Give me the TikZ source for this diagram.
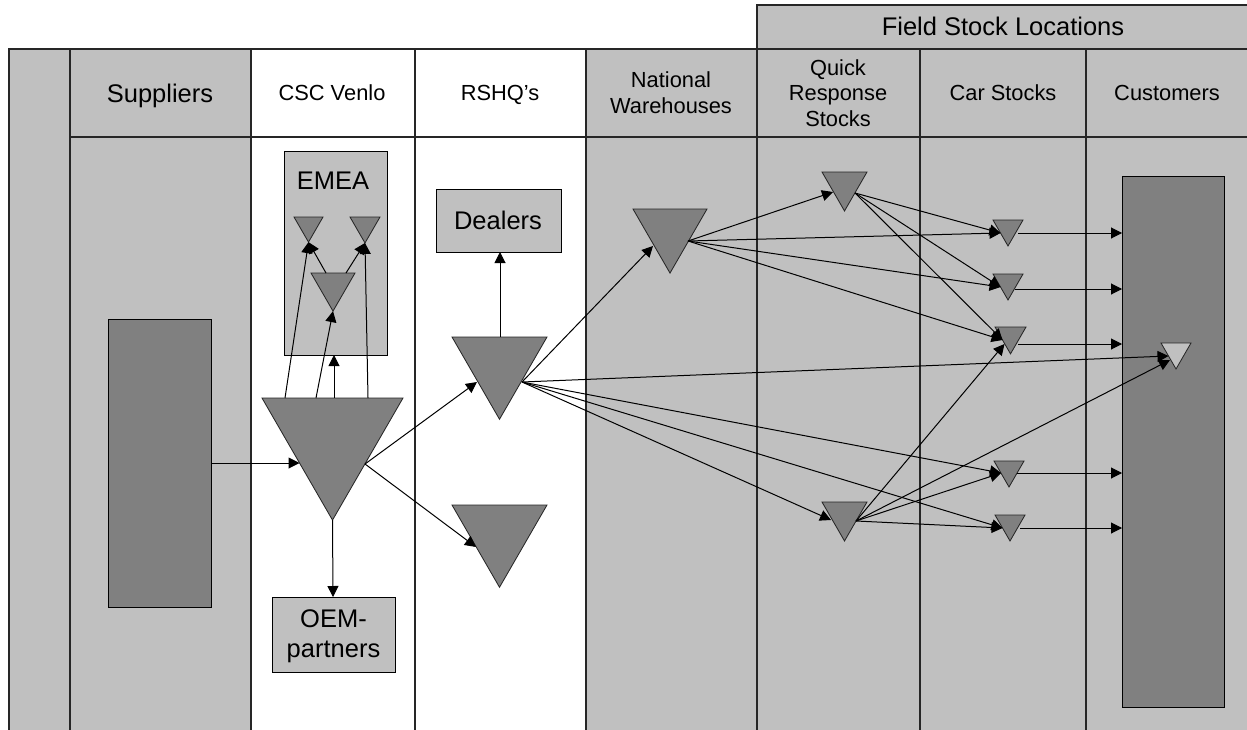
\documentclass[tikz,border=0pt]{standalone}
\usepackage{fontspec}
\setmainfont{Liberation Sans}
\usetikzlibrary{arrows.meta,fit}
\definecolor{lightgr}{HTML}{C0C0C0}
\definecolor{darkgr}{HTML}{808080}

% down-pointing equilateral stock triangle: [fill]{name}{x left}{x right}{y top}
\newcommand{\stocktri}[5][darkgr]{%
  \path[tri, fill=#1] (#3,#5) -- (#4,#5) -- ({(#3+#4)/2},{#5+0.866*(#4-#3)}) -- cycle;
  \coordinate (#2-apex) at ({(#3+#4)/2},{#5+0.866*(#4-#3)});
}

\begin{document}
\begin{tikzpicture}[x=0.6pt,y=-0.6pt, line width=0.6pt,
  big/.style={font=\fontsize{15.3}{18}\selectfont, align=center, inner sep=0pt, anchor=base},
  small/.style={font=\fontsize{13.1}{15.3}\selectfont, align=center, inner sep=0pt, anchor=base},
  lightbox/.style={draw=black, fill=lightgr, inner sep=0pt},
  darkbox/.style={draw=black, fill=darkgr, inner sep=0pt},
  tri/.style={draw=black!85, line width=0.5pt, line join=miter},
  lane/.style={draw=black!85, line width=0.8pt},
  flow/.style={-{Triangle[length=6.6pt,width=6.6pt]}, line width=0.6pt},
]
\useasboundingbox (0,0) rectangle (1247,729);

% ---- swim lanes ----
\fill[lightgr] (9,49) rectangle (251,732);
\fill[white] (251,49) rectangle (586,732);
\fill[lightgr] (586,49) rectangle (1252,732);
\fill[lightgr] (757,5) rectangle (1252,49);
\draw[lane] (1252,5) -- (757,5) -- (757,49);
\draw[lane] (9,732) -- (9,49) -- (1252,49);
\draw[lane] (70,137) -- (1252,137);
\foreach \lx in {70,251,415,586,757,920,1086}
  \draw[lane] (\lx,49) -- (\lx,732);

% ---- headers (positions are baselines of the last text line) ----
\node[big] (fsl) at (1003,35) {Field Stock Locations};
\node[big] (hsup) at (160,102) {Suppliers};
\node[small] (hcsc) at (332,100) {CSC Venlo};
\node[small] (hrs) at (500,100) {RSHQ’s};
\node[small] (hnw) at (671,113) {National\\Warehouses};
\node[small] (hqrs) at (838,126) {Quick\\Response\\Stocks};
\node[small] (hcar) at (1003,100) {Car Stocks};
\node[small] (hcust) at (1167,100) {Customers};

% ---- boxes ----
\node[darkbox, fit={(108,319) (211,607)}] (sup) {};
\node[lightbox, fit={(284,151) (387,355)}] (emea) {};
\node[big] (emealbl) at (333,189) {EMEA};
\node[lightbox, fit={(436,189) (561,252)}] (dealers) {};
\node[big] (dealerslbl) at (498,229) {Dealers};
\node[lightbox, fit={(272,597) (395,672)}] (oem) {};
\node[big] (oemlbl) at (333.5,657) {OEM-\\partners};
\node[darkbox, fit={(1122,176) (1224,707)}] (cust) {};

% ---- stock points ----
\stocktri{emeaL}{294}{323}{217}
\stocktri{emeaR}{350}{380}{217}
\stocktri{emeaM}{311}{355}{273}
\stocktri{csc}{262}{403}{398}
\stocktri{rsU}{452}{547}{337}
\stocktri{rsL}{452}{547}{505}
\stocktri{nw}{633}{707}{209}
\stocktri{qU}{822}{867}{172}
\stocktri{qL}{822}{867}{502}
\stocktri{cs1}{993}{1023}{220}
\stocktri{cs2}{993}{1023}{274}
\stocktri{cs3}{995}{1026}{327}
\stocktri{cs4}{994}{1024}{461}
\stocktri{cs5}{995}{1025}{515}
\stocktri[lightgr]{cu}{1161}{1191}{343}

% ---- connection points on the stock points ----
\coordinate (emeaM-tl) at (326,273);
\coordinate (emeaM-tr) at (346,273);
\coordinate (csc-t1) at (285,398);
\coordinate (csc-t2) at (316,398);
\coordinate (csc-t3) at (334,398);
\coordinate (csc-t4) at (368,398);
\coordinate (csc-in) at (299.5,463);
\coordinate (csc-out) at (365,464);
\coordinate (sup-out) at (211,463);
\coordinate (emea-in) at (334,355);
\coordinate (oem-in) at (333,597);
\coordinate (rsU-in) at (477,382);
\coordinate (rsL-in) at (476,547);
\coordinate (rsU-top) at (500,337);
\coordinate (dealers-in) at (500,252);
\coordinate (rsU-out) at (522,382);
\coordinate (nw-in) at (653,246);
\coordinate (nw-out) at (688,241);
\coordinate (qU-in) at (833,192);
\coordinate (qU-out) at (855,193);
\coordinate (qL-in) at (831,520);
\coordinate (qL-out) at (856,521);
\coordinate (cs1-in) at (1000.5,233);
\coordinate (cs2-in) at (1000.5,287);
\coordinate (cs3-in) at (1002.5,340);
\coordinate (cs3-inb) at (1004.5,344);
\coordinate (cs4-in) at (1001,473);
\coordinate (cs5-in) at (1002.5,528);
\coordinate (cu-in1) at (1168.5,356);
\coordinate (cu-in2) at (1170,360);
\coordinate (cs1-out) at (1018,233);
\coordinate (cs2-out) at (1015,289);
\coordinate (cs3-out) at (1018,344);
\coordinate (cs4-out) at (1017,473);
\coordinate (cs5-out) at (1020,528);
\coordinate (cust-1) at (1122,233);
\coordinate (cust-2) at (1122,289);
\coordinate (cust-3) at (1122,344);
\coordinate (cust-4) at (1122,473);
\coordinate (cust-5) at (1122,528);

% ---- flows ----
\draw[flow] (emeaM-tl) -- (emeaL-apex);
\draw[flow] (emeaM-tr) -- (emeaR-apex);
\draw[flow] (csc-t1) -- (emeaL-apex);
\draw[flow] (csc-t2) -- (emeaM-apex);
\draw[flow] (csc-t3) -- (emea-in);
\draw[flow] (csc-t4) -- (emeaR-apex);
\draw[flow] (sup-out) -- (csc-in);
\draw[flow] (csc-apex) -- (oem-in);
\draw[flow] (csc-out) -- (rsU-in);
\draw[flow] (csc-out) -- (rsL-in);
\draw[flow] (rsU-top) -- (dealers-in);

\draw[flow] (rsU-out) -- (nw-in);
\draw[flow] (rsU-out) -- (cu-in1);
\draw[flow] (rsU-out) -- (qL-in);
\draw[flow] (rsU-out) -- (cs4-in);
\draw[flow] (rsU-out) -- (cs5-in);

\draw[flow] (nw-out) -- (qU-in);
\draw[flow] (nw-out) -- (cs1-in);
\draw[flow] (nw-out) -- (cs2-in);
\draw[flow] (nw-out) -- (cs3-in);

\draw[flow] (qU-out) -- (cs1-in);
\draw[flow] (qU-out) -- (cs2-in);
\draw[flow] (qU-out) -- (cs3-in);

\draw[flow] (qL-out) -- (cs3-inb);
\draw[flow] (qL-out) -- (cs4-in);
\draw[flow] (qL-out) -- (cs5-in);
\draw[flow] (qL-out) -- (cu-in2);

\draw[flow] (cs1-out) -- (cust-1);
\draw[flow] (cs2-out) -- (cust-2);
\draw[flow] (cs3-out) -- (cust-3);
\draw[flow] (cs4-out) -- (cust-4);
\draw[flow] (cs5-out) -- (cust-5);
\end{tikzpicture}
\end{document}
